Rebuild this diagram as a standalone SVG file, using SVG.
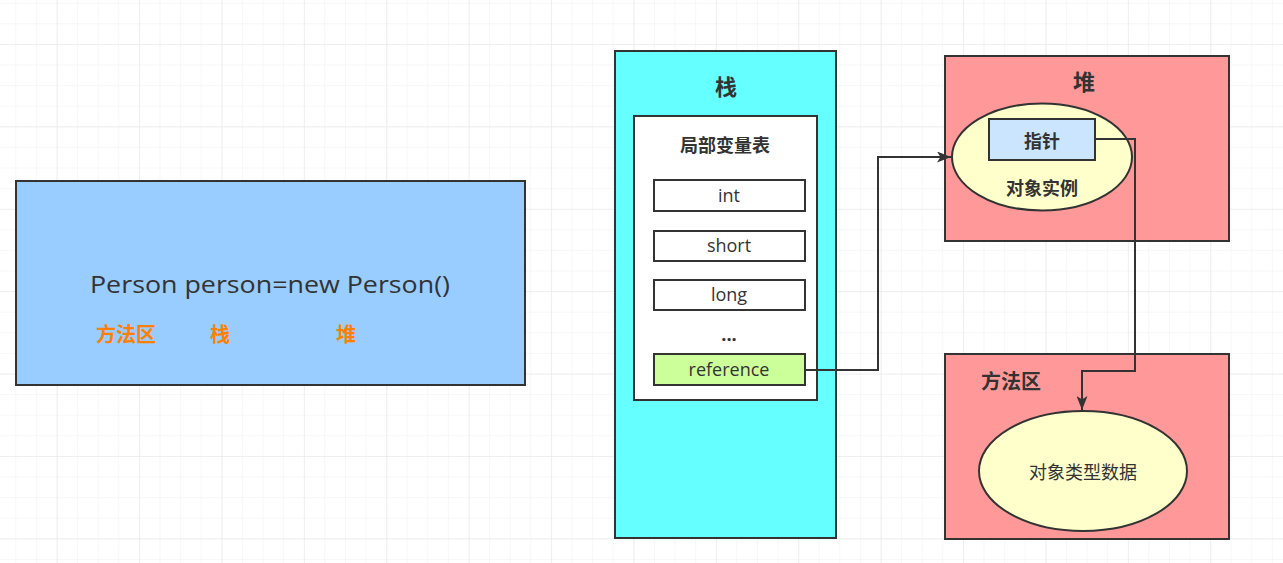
<svg xmlns="http://www.w3.org/2000/svg" width="1283" height="563" viewBox="0 0 1283 563">
<defs>
<pattern id="minor" x="15.3" y="2.7" width="20.6" height="20.6" patternUnits="userSpaceOnUse">
<path d="M0 0H20.6M0 0V20.6" fill="none" stroke="#f0f0f0" stroke-width="1"/>
</pattern>
<pattern id="major" x="56.7" y="44" width="82.4" height="82.4" patternUnits="userSpaceOnUse">
<path d="M0 0H82.4M0 0V82.4" fill="none" stroke="#e6e6e6" stroke-width="1"/>
</pattern>
<marker id="arr" viewBox="0 0 14 11" refX="14" refY="5.5" markerWidth="14" markerHeight="11" markerUnits="userSpaceOnUse" orient="auto">
<path d="M0 0L14 5.5L0 11L3.5 5.5Z" fill="#333"/>
</marker>
</defs>
<style>
.s{stroke:#333;stroke-width:2}
.t{font-family:"Noto Sans CJK SC","Noto Sans",sans-serif;fill:#333;text-anchor:middle;dominant-baseline:central}
.l{font-family:"Open Sans","Noto Sans CJK SC",sans-serif;fill:#333;text-anchor:middle;dominant-baseline:central}
.b{font-weight:bold}
.o{fill:#FF8000;font-weight:bold;font-size:20px}
.c{fill:none;stroke:#333;stroke-width:2}
</style>
<rect width="1283" height="563" fill="#fff"/>
<rect width="1283" height="563" fill="url(#minor)"/>
<rect width="1283" height="563" fill="url(#major)"/>

<g id="code">
<rect x="16" y="181" width="509" height="204" fill="#99CCFF" class="s"/>
<text x="270" y="283" class="l" font-size="24" textLength="360" lengthAdjust="spacingAndGlyphs">Person person=new Person()</text>
<text x="126" y="333" class="t o">方法区</text>
<text x="220" y="333" class="t o">栈</text>
<text x="346" y="333" class="t o">堆</text>
</g>

<g id="stack">
<rect x="615" y="51" width="221" height="487" fill="#66FFFF" class="s"/>
<text x="726" y="85" class="t b" font-size="22">栈</text>
</g>
<g id="lvt">
<rect x="634" y="116" width="183" height="284" fill="#fff" class="s"/>
<text x="725" y="144" class="t b" font-size="18">局部变量表</text>
</g>
<g id="int">
<rect x="654" y="180" width="151" height="31" fill="#fff" class="s"/>
<text x="729" y="195" class="l" font-size="18">int</text>
</g>
<g id="short">
<rect x="654" y="231" width="151" height="30" fill="#fff" class="s"/>
<text x="729" y="245" class="l" font-size="18">short</text>
</g>
<g id="long">
<rect x="654" y="280" width="151" height="30" fill="#fff" class="s"/>
<text x="729" y="294" class="l" font-size="18">long</text>
</g>
<g id="dots">
<text x="729" y="334" class="l b" font-size="18">...</text>
</g>
<g id="reference">
<rect x="654" y="354" width="151" height="31" fill="#CCFF99" class="s"/>
<text x="729" y="369" class="l" font-size="18">reference</text>
</g>

<g id="heap">
<rect x="945" y="56" width="284" height="185" fill="#FF9999" class="s"/>
<text x="1084" y="80" class="t b" font-size="22">堆</text>
</g>
<g id="instance">
<ellipse cx="1042" cy="157" rx="90" ry="53.5" fill="#FFFFCC" class="s"/>
<text x="1042" y="187" class="t b" font-size="18">对象实例</text>
</g>
<g id="pointer">
<rect x="989" y="119" width="106" height="41" fill="#CCE5FF" class="s"/>
<text x="1042" y="140" class="t b" font-size="18">指针</text>
</g>

<g id="method">
<rect x="945" y="354" width="284" height="185" fill="#FF9999" class="s"/>
<text x="1011" y="380" class="t b" font-size="20">方法区</text>
</g>
<g id="typedata">
<ellipse cx="1083" cy="471" rx="104" ry="60" fill="#FFFFCC" class="s"/>
<text x="1083" y="471" class="t" font-size="18">对象类型数据</text>
</g>

<g id="connectors">
<path d="M805 370H878V157H951" class="c" marker-end="url(#arr)"/>
<path d="M1095 139H1135V371H1082V410" class="c" marker-end="url(#arr)"/>
</g>
</svg>
